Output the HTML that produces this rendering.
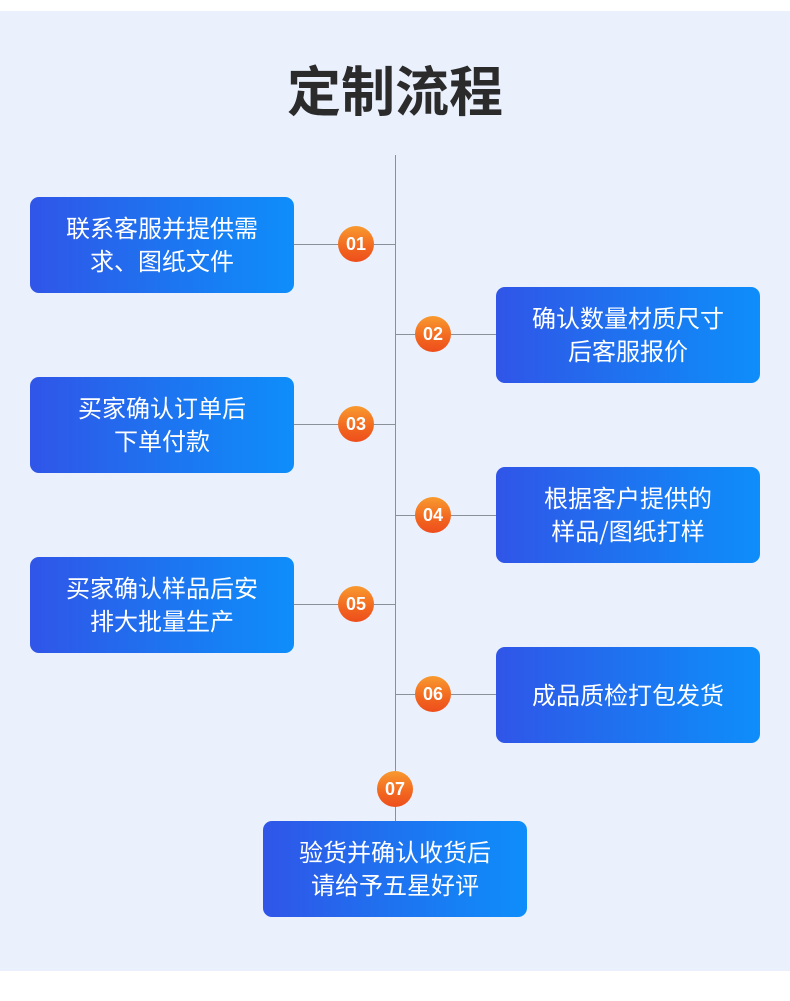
<!DOCTYPE html>
<html><head><meta charset="utf-8"><style>
*{margin:0;padding:0;box-sizing:border-box}
body{width:790px;height:1001px;background:#fff;position:relative;overflow:hidden;font-family:"Liberation Sans","Noto Sans CJK SC",sans-serif}
.bg{position:absolute;left:0;top:11px;width:790px;height:960px;background:#EAF1FC}
.title{position:absolute;left:0;top:58px;width:790px;height:60px;line-height:60px;text-align:center;font-size:54px;font-weight:700;color:#2B2B2B;font-family:"Noto Sans CJK SC",sans-serif}
.vl{position:absolute;left:395px;top:155px;width:1px;height:666px;background:#8C9099}
.hl{position:absolute;height:1px;background:#8C9099;width:102px}
.box{position:absolute;width:264px;height:96px;border-radius:9px;background:linear-gradient(90deg,#3055E8 0%,#1E73F0 50%,#0E8EFA 100%);color:#fff;font-size:24px;line-height:33px;text-align:center;display:flex;align-items:center;justify-content:center;padding-bottom:4px;font-family:"Noto Sans CJK SC",sans-serif}
.c{position:absolute;width:36px;height:36px;border-radius:50%;background:linear-gradient(180deg,#F89A2F 0%,#F2661F 60%,#EE4E1C 100%);color:#fff;font-weight:700;font-size:18px;line-height:36px;text-align:center;font-family:"Liberation Sans",sans-serif}
</style></head><body>
<div class="bg"></div>
<div class="title">定制流程</div>
<div class="vl"></div>

<div class="hl" style="left:293px;top:244px"></div>
<div class="hl" style="left:395px;top:334px"></div>
<div class="hl" style="left:293px;top:424px"></div>
<div class="hl" style="left:395px;top:515px"></div>
<div class="hl" style="left:293px;top:604px"></div>
<div class="hl" style="left:395px;top:694px"></div>

<div class="box" style="left:30px;top:197px">联系客服并提供需<br>求、图纸文件</div>
<div class="box" style="left:496px;top:287px">确认数量材质尺寸<br>后客服报价</div>
<div class="box" style="left:30px;top:377px">买家确认订单后<br>下单付款</div>
<div class="box" style="left:496px;top:467px">根据客户提供的<br>样品/图纸打样</div>
<div class="box" style="left:30px;top:557px">买家确认样品后安<br>排大批量生产</div>
<div class="box" style="left:496px;top:647px">成品质检打包发货</div>
<div class="box" style="left:263px;top:821px">验货并确认收货后<br>请给予五星好评</div>

<div class="c" style="left:338px;top:226px">01</div>
<div class="c" style="left:415px;top:316px">02</div>
<div class="c" style="left:338px;top:406px">03</div>
<div class="c" style="left:415px;top:497px">04</div>
<div class="c" style="left:338px;top:586px">05</div>
<div class="c" style="left:415px;top:676px">06</div>
<div class="c" style="left:377px;top:771px">07</div>
</body></html>
